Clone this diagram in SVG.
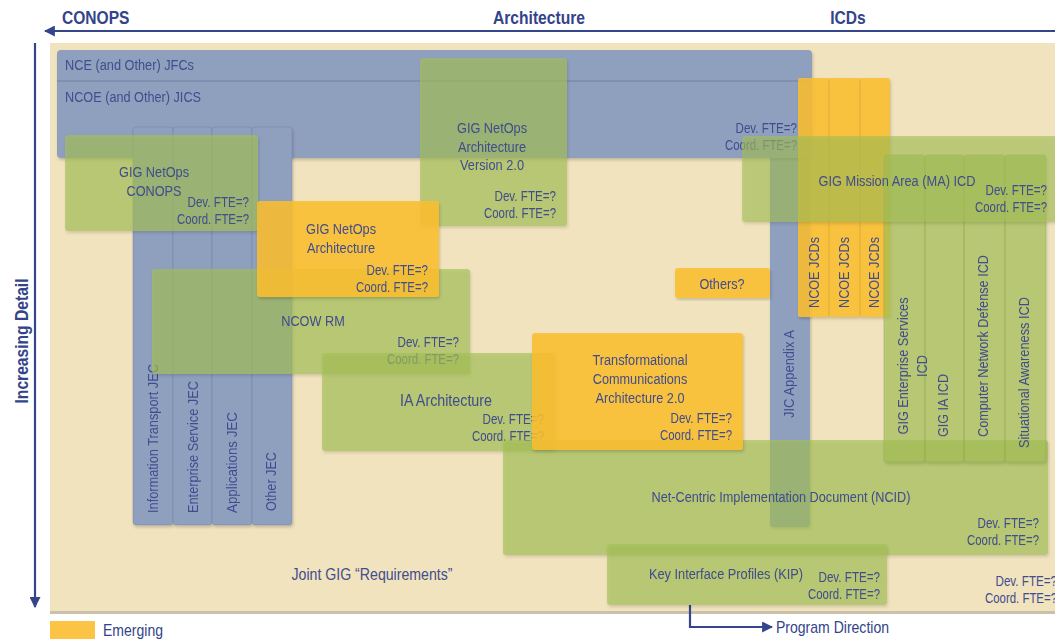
<svg xmlns="http://www.w3.org/2000/svg" width="1055" height="640" viewBox="0 0 1055 640">
<defs>
<style>
text{font-family:"Liberation Sans",Arial,sans-serif;fill:#414d8e}
.t{font-size:15.5px}
.f{font-size:14px;text-anchor:end}
.m{text-anchor:middle}
.ax{font-size:19px;font-weight:bold;fill:#33448a}
.blue{fill:#8f9fbe}
.green{fill:#a3c055;fill-opacity:0.65}
.ma{fill:#a3c055;fill-opacity:0.6}
.orange{fill:#fbbf30;fill-opacity:0.86}
.col{stroke:#6f80a3;stroke-width:0.8;stroke-opacity:0.5}
.gcol{stroke:#8aa048;stroke-width:0.8;stroke-opacity:0.5}
.line{stroke:#34458c;stroke-width:2.2;fill:none}
</style>
<filter id="sh" x="-5%" y="-5%" width="112%" height="115%">
<feDropShadow dx="1" dy="2" stdDeviation="1.5" flood-color="#000" flood-opacity="0.2"/>
</filter>
<marker id="ah" viewBox="0 0 10 10" refX="9" refY="5" markerWidth="5" markerHeight="5" orient="auto-start-reverse" markerUnits="strokeWidth">
<path d="M0,0 L10,5 L0,10 z" fill="#34458c"/>
</marker>
</defs>

<!-- background -->
<rect x="50" y="611" width="1005" height="3" fill="#c9c1aa"/>
<rect x="50" y="43" width="1005" height="568" fill="#f1e3be"/>

<!-- axes and program direction -->
<g id="connectors">
<line class="line" x1="1055" y1="31" x2="45" y2="31" marker-end="url(#ah)"/>
<line class="line" x1="35" y1="43" x2="35" y2="607" marker-end="url(#ah)"/>
<polyline class="line" points="690,605 690,627 772,627" marker-end="url(#ah)"/>
</g>
<text class="ax" x="62" y="24" textLength="67.5" lengthAdjust="spacingAndGlyphs">CONOPS</text>
<text class="ax m" x="539" y="24" textLength="92" lengthAdjust="spacingAndGlyphs">Architecture</text>
<text class="ax m" x="848" y="24" textLength="35.5" lengthAdjust="spacingAndGlyphs">ICDs</text>
<text class="ax m" transform="translate(28,341) rotate(-90)" textLength="125" lengthAdjust="spacingAndGlyphs">Increasing Detail</text>
<text x="776" y="633" style="font-size:17px;fill:#33448a" textLength="113" lengthAdjust="spacingAndGlyphs">Program Direction</text>

<!-- legend -->
<g id="legend">
<rect x="50" y="621" width="45" height="18" fill="#fcc444"/>
<text x="103" y="636" style="font-size:17px;fill:#33448a" textLength="60" lengthAdjust="spacingAndGlyphs">Emerging</text>
</g>

<!-- JIC Appendix A -->
<g id="jic" filter="url(#sh)">
<rect class="blue" x="770" y="120" width="40" height="407" rx="3"/>
<text class="t" transform="translate(793.5,418) rotate(-90)" textLength="88" lengthAdjust="spacingAndGlyphs">JIC Appendix A</text>
</g>

<!-- blue JFC / JICS -->
<g id="jfc" filter="url(#sh)">
<rect class="blue" x="57" y="50" width="755" height="108" rx="4"/>
<line x1="57" y1="81" x2="812" y2="81" stroke="#7181a3" stroke-width="1.2"/>
<text class="t" x="65" y="70" textLength="129" lengthAdjust="spacingAndGlyphs">NCE (and Other) JFCs</text>
<text class="t" x="65" y="102" textLength="136" lengthAdjust="spacingAndGlyphs">NCOE (and Other) JICS</text>
<text class="f" x="797" y="133" textLength="61.5" lengthAdjust="spacingAndGlyphs">Dev. FTE=?</text>
<text class="f" x="797" y="150" textLength="72" lengthAdjust="spacingAndGlyphs">Coord. FTE=?</text>
</g>

<!-- JEC columns -->
<g id="jec" filter="url(#sh)">
<rect class="blue col" x="133" y="127" width="40" height="398" rx="3"/>
<rect class="blue col" x="173" y="127" width="39" height="398" rx="3"/>
<rect class="blue col" x="212" y="127" width="40" height="398" rx="3"/>
<rect class="blue col" x="252" y="127" width="40" height="398" rx="3"/>
<text class="t" transform="translate(157.5,513) rotate(-90)" textLength="149" lengthAdjust="spacingAndGlyphs">Information Transport JEC</text>
<text class="t" transform="translate(197.5,513) rotate(-90)" textLength="132" lengthAdjust="spacingAndGlyphs">Enterprise Service JEC</text>
<text class="t" transform="translate(236.5,513) rotate(-90)" textLength="101" lengthAdjust="spacingAndGlyphs">Applications JEC</text>
<text class="t" transform="translate(275.5,511) rotate(-90)" textLength="59" lengthAdjust="spacingAndGlyphs">Other JEC</text>
</g>

<!-- GIG NetOps CONOPS -->
<g id="conops" filter="url(#sh)">
<rect class="green" x="65" y="135" width="193" height="96" rx="3"/>
<text class="t m" x="154" y="176.5" textLength="70" lengthAdjust="spacingAndGlyphs">GIG NetOps</text>
<text class="t m" x="154" y="195.5" textLength="55" lengthAdjust="spacingAndGlyphs">CONOPS</text>
<text class="f" x="249" y="207" textLength="61.5" lengthAdjust="spacingAndGlyphs">Dev. FTE=?</text>
<text class="f" x="249" y="224" textLength="72" lengthAdjust="spacingAndGlyphs">Coord. FTE=?</text>
</g>

<!-- GIG NetOps Architecture Version 2.0 -->
<g id="arch2" filter="url(#sh)">
<rect class="green" x="420" y="58" width="147" height="168" rx="3"/>
<text class="t m" x="492" y="132.5" textLength="70" lengthAdjust="spacingAndGlyphs">GIG NetOps</text>
<text class="t m" x="492" y="151.5" textLength="68" lengthAdjust="spacingAndGlyphs">Architecture</text>
<text class="t m" x="492" y="169.5" textLength="64" lengthAdjust="spacingAndGlyphs">Version 2.0</text>
<text class="f" x="556" y="201" textLength="61.5" lengthAdjust="spacingAndGlyphs">Dev. FTE=?</text>
<text class="f" x="556" y="218" textLength="72" lengthAdjust="spacingAndGlyphs">Coord. FTE=?</text>
</g>

<!-- NCOW RM -->
<g id="ncow" filter="url(#sh)">
<rect class="green" x="152" y="269" width="318" height="105" rx="3"/>
<text class="t m" x="313" y="325.5" textLength="63.5" lengthAdjust="spacingAndGlyphs">NCOW RM</text>
<text class="f" x="459" y="347" textLength="61.5" lengthAdjust="spacingAndGlyphs">Dev. FTE=?</text>
<text class="f" x="459" y="364" textLength="72" lengthAdjust="spacingAndGlyphs">Coord. FTE=?</text>
</g>

<!-- GIG NetOps Architecture (emerging) -->
<g id="netopsarch" filter="url(#sh)">
<rect class="orange" x="257" y="201" width="182" height="96" rx="3"/>
<text class="t m" x="341" y="233.5" textLength="70" lengthAdjust="spacingAndGlyphs">GIG NetOps</text>
<text class="t m" x="341" y="252.5" textLength="68" lengthAdjust="spacingAndGlyphs">Architecture</text>
<text class="f" x="428" y="275" textLength="61.5" lengthAdjust="spacingAndGlyphs">Dev. FTE=?</text>
<text class="f" x="428" y="292" textLength="72" lengthAdjust="spacingAndGlyphs">Coord. FTE=?</text>
</g>

<!-- IA Architecture -->
<g id="ia" filter="url(#sh)">
<rect class="green" x="322" y="353" width="233" height="98" rx="3"/>
<text class="m" x="446" y="406" style="font-size:17px" textLength="92" lengthAdjust="spacingAndGlyphs">IA Architecture</text>
<text class="f" x="544" y="424" textLength="61.5" lengthAdjust="spacingAndGlyphs">Dev. FTE=?</text>
<text class="f" x="544" y="441" textLength="72" lengthAdjust="spacingAndGlyphs">Coord. FTE=?</text>
</g>

<!-- NCID -->
<g id="ncid" filter="url(#sh)">
<rect class="green" x="503" y="440" width="545" height="115" rx="3"/>
<text class="t m" x="781" y="501.5" textLength="259" lengthAdjust="spacingAndGlyphs">Net-Centric Implementation Document (NCID)</text>
<text class="f" x="1039" y="528" textLength="61.5" lengthAdjust="spacingAndGlyphs">Dev. FTE=?</text>
<text class="f" x="1039" y="545" textLength="72" lengthAdjust="spacingAndGlyphs">Coord. FTE=?</text>
</g>

<!-- Transformational Communications Architecture -->
<g id="tca" filter="url(#sh)">
<rect class="orange" x="532" y="333" width="211" height="117" rx="3"/>
<text class="t m" x="640" y="364.5" textLength="95" lengthAdjust="spacingAndGlyphs">Transformational</text>
<text class="t m" x="640" y="383.5" textLength="94.5" lengthAdjust="spacingAndGlyphs">Communications</text>
<text class="t m" x="640" y="402.5" textLength="89" lengthAdjust="spacingAndGlyphs">Architecture 2.0</text>
<text class="f" x="732" y="423" textLength="61.5" lengthAdjust="spacingAndGlyphs">Dev. FTE=?</text>
<text class="f" x="732" y="440" textLength="72" lengthAdjust="spacingAndGlyphs">Coord. FTE=?</text>
</g>

<!-- KIP -->
<g id="kip" filter="url(#sh)">
<rect class="green" x="607" y="544" width="280" height="61" rx="3"/>
<text class="t m" x="726" y="578.5" textLength="154" lengthAdjust="spacingAndGlyphs">Key Interface Profiles (KIP)</text>
<text class="f" x="880" y="582" textLength="61.5" lengthAdjust="spacingAndGlyphs">Dev. FTE=?</text>
<text class="f" x="880" y="599" textLength="72" lengthAdjust="spacingAndGlyphs">Coord. FTE=?</text>
</g>

<!-- NCOE JCDs -->
<g id="jcds" filter="url(#sh)">
<rect class="orange" x="798" y="78" width="31" height="239" rx="2"/>
<rect class="orange" x="829" y="78" width="31" height="239" rx="2"/>
<rect class="orange" x="860" y="78" width="30" height="239" rx="2"/>
<line x1="829" y1="78" x2="829" y2="317" stroke="#c9952a" stroke-width="0.8" stroke-opacity="0.6"/>
<line x1="860" y1="78" x2="860" y2="317" stroke="#c9952a" stroke-width="0.8" stroke-opacity="0.6"/>
<text class="t" transform="translate(818.5,308) rotate(-90)" textLength="71" lengthAdjust="spacingAndGlyphs">NCOE JCDs</text>
<text class="t" transform="translate(848.5,308) rotate(-90)" textLength="71" lengthAdjust="spacingAndGlyphs">NCOE JCDs</text>
<text class="t" transform="translate(878.5,308) rotate(-90)" textLength="71" lengthAdjust="spacingAndGlyphs">NCOE JCDs</text>
</g>

<!-- ICD columns -->
<g id="icds" filter="url(#sh)">
<rect class="green gcol" x="884" y="155" width="41" height="307" rx="3"/>
<rect class="green gcol" x="925" y="155" width="39" height="307" rx="3"/>
<rect class="green gcol" x="964" y="155" width="41" height="307" rx="3"/>
<rect class="green gcol" x="1005" y="155" width="41" height="307" rx="3"/>
<text class="t m" transform="translate(907.5,366) rotate(-90)" textLength="137" lengthAdjust="spacingAndGlyphs">GIG Enterprise Services</text>
<text class="t m" transform="translate(926.5,366) rotate(-90)" textLength="22" lengthAdjust="spacingAndGlyphs">ICD</text>
<text class="t" transform="translate(947.5,437) rotate(-90)" textLength="63" lengthAdjust="spacingAndGlyphs">GIG IA ICD</text>
<text class="t" transform="translate(987.5,437) rotate(-90)" textLength="182" lengthAdjust="spacingAndGlyphs">Computer Network Defense ICD</text>
<text class="t" transform="translate(1028.5,448) rotate(-90)" textLength="151" lengthAdjust="spacingAndGlyphs">Situational Awareness ICD</text>
</g>

<!-- GIG Mission Area ICD -->
<g id="maicd" filter="url(#sh)">
<rect class="ma" x="742" y="136" width="320" height="86" rx="3"/>
<text class="t m" x="897" y="185.5" textLength="157" lengthAdjust="spacingAndGlyphs">GIG Mission Area (MA) ICD</text>
<text class="f" x="1047" y="195" textLength="61.5" lengthAdjust="spacingAndGlyphs">Dev. FTE=?</text>
<text class="f" x="1047" y="212" textLength="72" lengthAdjust="spacingAndGlyphs">Coord. FTE=?</text>
</g>

<!-- Others? -->
<g id="others" filter="url(#sh)">
<rect class="orange" x="675" y="268" width="95" height="30" rx="3"/>
<text class="t m" x="722" y="288.5" textLength="45" lengthAdjust="spacingAndGlyphs">Others?</text>
</g>

<!-- Joint GIG Requirements -->
<g id="joint">
<text class="m" x="372" y="580" style="font-size:17px" textLength="161" lengthAdjust="spacingAndGlyphs">Joint GIG “Requirements”</text>
<text class="f" x="1057" y="586" textLength="61.5" lengthAdjust="spacingAndGlyphs">Dev. FTE=?</text>
<text class="f" x="1057" y="603" textLength="72" lengthAdjust="spacingAndGlyphs">Coord. FTE=?</text>
</g>
</svg>
